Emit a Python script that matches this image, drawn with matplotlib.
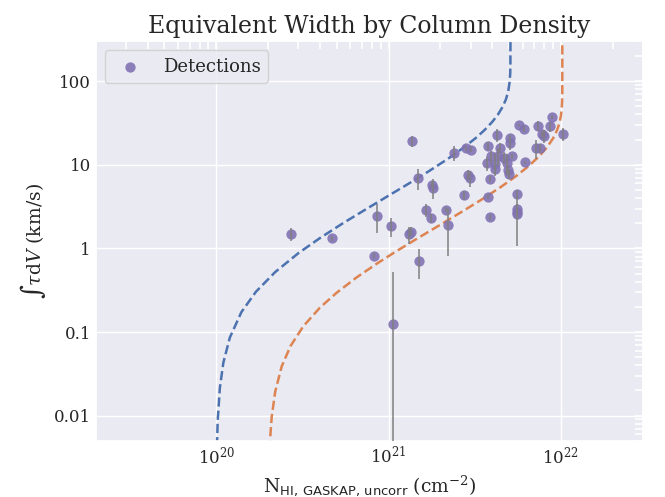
import matplotlib
matplotlib.use('Agg')
import matplotlib.pyplot as plt
import seaborn as sns
import numpy as np
from matplotlib.ticker import FuncFormatter

# detections: column density (1e20 cm^-2), equivalent width (km/s), error (km/s)
nhi = [2.70, 4.67, 8.22, 8.61, 10.3, 10.6, 13.1, 13.5, 15.1, 13.6,
       14.8, 17.8, 18.0, 16.6, 17.6, 21.5, 22.0, 24.0, 28.0, 30.3,
       42.4, 50.7, 50.5, 37.6, 44.2, 39.4, 43.2, 46.5, 52.1, 37.3,
       41.7, 48.6, 41.7, 49.4, 50.0, 62.2, 56.9, 60.9, 74.1, 86.1,
       88.5, 77.6, 79.7, 103.0, 71.4, 75.6, 28.8, 29.7, 38.7, 27.5,
       38.0, 38.9, 55.5, 55.5, 55.7, 55.9]
ew = [1.49, 1.32, 0.82, 2.46, 1.85, 0.126, 1.47, 1.59, 0.715, 19.3,
      6.94, 5.77, 5.32, 2.90, 2.31, 2.90, 1.91, 14.0, 15.8, 15.2,
      22.8, 20.8, 18.0, 16.9, 16.0, 12.6, 12.8, 12.2, 12.6, 10.5,
      10.3, 10.5, 8.79, 8.59, 7.74, 10.7, 30.0, 26.7, 29.2, 28.8,
      37.4, 23.6, 22.2, 23.3, 15.8, 15.8, 7.60, 6.90, 6.75, 4.30,
      4.15, 2.40, 4.47, 2.96, 2.75, 2.58]
ew_err = [0.27, 0.08, 0.05, 0.95, 0.48, 0.40, 0.35, 0.2, 0.28, 3.0,
          2.0, 0.5, 1.4, 0.5, 0.3, 0.2, 1.1, 3.0, 1.0, 1.0,
          4.0, 2.0, 3.0, 2.0, 2.0, 2.0, 3.0, 2.0, 1.0, 2.0,
          3.0, 3.0, 1.0, 1.0, 1.0, 0.5, 1.0, 2.0, 4.0, 4.0,
          2.0, 2.0, 4.0, 4.0, 4.0, 2.0, 1.0, 1.5, 0.5, 0.5,
          0.3, 0.2, 0.5, 0.4, 0.4, 1.5]

# model curves (1e20 cm^-2, km/s)
blue_n = [1.01, 1.02, 1.05, 1.1, 1.2, 1.4, 1.7, 2.2, 3, 4, 5.5, 7.5, 10,
          13, 17, 22, 27, 32, 36, 40, 43, 46, 48, 49.5, 50.5, 50.85, 50.97, 51.0]
blue_ew = [0.0043, 0.0086, 0.0215, 0.043, 0.086, 0.173, 0.303, 0.522, 0.878,
           1.33, 2.03, 2.99, 4.27, 5.90, 8.29, 11.7, 15.8, 20.8, 25.9, 32.6,
           39.4, 49.5, 60.5, 75.4, 99.0, 125, 160, 330]
orange_n = [2.02, 2.05, 2.1, 2.2, 2.4, 2.7, 3.2, 4, 5, 6.5, 8.5, 11, 15, 20,
            27, 35, 45, 55, 65, 75, 83, 90, 95, 98, 100, 101, 101.7, 101.95, 102.0]
orange_ew = [0.0019, 0.0049, 0.0097, 0.0194, 0.0389, 0.0681, 0.117, 0.196,
             0.295, 0.447, 0.652, 0.915, 1.35, 1.92, 2.79, 3.88, 5.45, 7.32,
             9.64, 12.7, 16.1, 20.6, 25.8, 31.2, 37.9, 44.7, 56.4, 73.7, 330]

sns.set_theme(style='darkgrid')
plt.rcParams['font.family'] = ['DejaVu Serif']
plt.rcParams['mathtext.fontset'] = 'dejavuserif'

pal = sns.color_palette('deep')

fig, ax = plt.subplots(figsize=(6.65, 4.97), dpi=100)
fig.subplots_adjust(left=0.144, right=0.967, top=0.917, bottom=0.113)

x = np.array(nhi) * 1e20
ax.errorbar(x, ew, yerr=ew_err, fmt='none', ecolor='grey', elinewidth=1.1, zorder=3)
ax.scatter(x, ew, s=55, color=pal[4], alpha=0.9, linewidths=0, zorder=2,
           label='Detections')
ax.plot(np.array(blue_n) * 1e20, blue_ew, ls='--', color=pal[0], lw=1.8, zorder=1)
ax.plot(np.array(orange_n) * 1e20, orange_ew, ls='--', color=pal[1], lw=1.8, zorder=1)

ax.set_xscale('log')
ax.set_yscale('log')
ax.set_xlim(2e19, 3e22)
ax.set_ylim(5e-3, 3e2)
ax.yaxis.set_major_formatter(FuncFormatter(lambda v, p: '{:g}'.format(v)))
ax.tick_params(which='both', direction='in', top=True, right=True,
               color='white', length=6, width=1.2, labelsize=12)

ax.set_title('Equivalent Width by Column Density', fontsize=17)
ax.set_ylabel(r'$\int\tau\mathrm{d}V$ (km/s)', fontsize=13.5)
ax.set_xlabel(r'$\mathrm{N}_{\mathsf{HI,\,GASKAP,\,uncorr}}$ (cm$^{-2}$)', fontsize=13.5)
ax.legend(loc='upper left', fontsize=13)

plt.savefig('out.png', dpi=100)
